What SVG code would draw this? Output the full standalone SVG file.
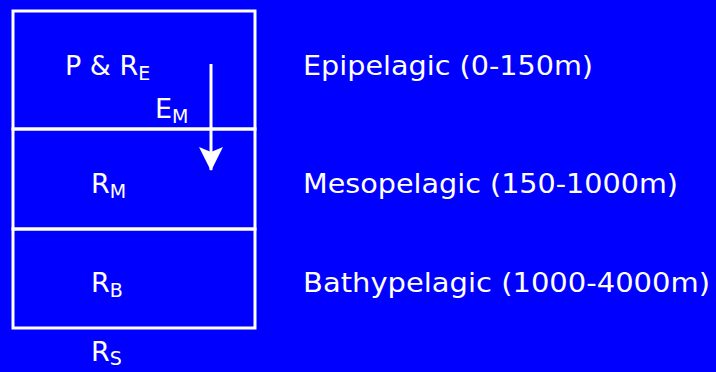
<svg xmlns="http://www.w3.org/2000/svg" width="716" height="372" viewBox="0 0 716 372">
  <style>
    .bg { fill: #0000ff; }
    .box { fill: none; stroke: #ffffff; stroke-width: 3; }
    .lbl { fill: #ffffff; font-family: "DejaVu Sans", "Open Sans", sans-serif; font-size: 27px; }
    .sub { font-size: 19px; }
    .flow { stroke: #ffffff; stroke-width: 3; fill: none; }
  </style>
  <defs>
    <marker id="head" viewBox="0 0 24 24" refX="23" refY="12" markerWidth="24" markerHeight="24" markerUnits="userSpaceOnUse" orient="auto">
      <path d="M0,0 L24,12 L0,24 L5,12 Z" fill="#ffffff"/>
    </marker>
  </defs>
  <rect class="bg" x="0" y="0" width="716" height="372"/>

  <!-- water column layers -->
  <g id="epipelagic">
    <rect class="box" x="13" y="11" width="242" height="118"/>
    <text class="lbl" x="65" y="75">P &amp; R<tspan class="sub" dy="5">E</tspan></text>
    <text class="lbl" x="303" y="75" textLength="290" lengthAdjust="spacingAndGlyphs">Epipelagic (0-150m)</text>
  </g>
  <g id="export-label">
    <text class="lbl" x="155" y="118">E<tspan class="sub" dy="5">M</tspan></text>
  </g>
  <g id="mesopelagic">
    <rect class="box" x="13" y="129" width="242" height="100"/>
    <text class="lbl" x="91" y="193">R<tspan class="sub" dy="5">M</tspan></text>
    <text class="lbl" x="303" y="193" textLength="375" lengthAdjust="spacingAndGlyphs">Mesopelagic (150-1000m)</text>
  </g>
  <g id="bathypelagic">
    <rect class="box" x="13" y="229" width="242" height="99"/>
    <text class="lbl" x="91" y="292">R<tspan class="sub" dy="5">B</tspan></text>
    <text class="lbl" x="303" y="292" textLength="407" lengthAdjust="spacingAndGlyphs">Bathypelagic (1000-4000m)</text>
  </g>
  <g id="sediment">
    <text class="lbl" x="91" y="361">R<tspan class="sub" dy="4">S</tspan></text>
  </g>

  <!-- export flux -->
  <g id="connectors">
    <line class="flow" x1="211" y1="64" x2="211" y2="170" marker-end="url(#head)"/>
  </g>
</svg>
